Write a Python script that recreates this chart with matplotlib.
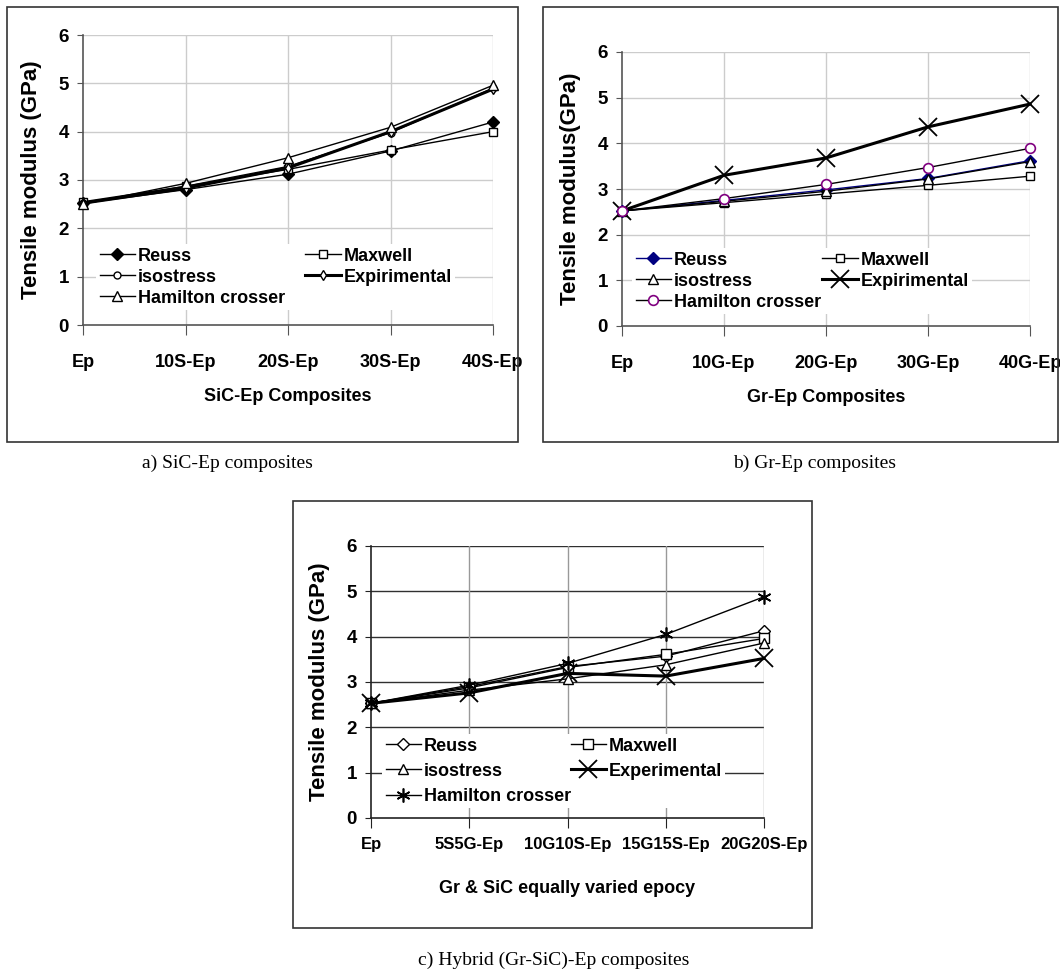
import matplotlib
matplotlib.use("Agg")
import matplotlib.pyplot as plt
from matplotlib.patches import Rectangle

W, H = 1060, 974
NARROW = ['Liberation Sans Narrow', 'Liberation Sans', 'DejaVu Sans']
SERIF = ['Liberation Serif', 'DejaVu Serif']

# ---- data ----
cats_a = ['Ep', '10S-Ep', '20S-Ep', '30S-Ep', '40S-Ep']
reuss_a = [2.52, 2.80, 3.12, 3.60, 4.20]
maxwell_a = [2.55, 2.87, 3.22, 3.62, 4.00]
isostress_a = [2.52, 2.87, 3.28, 3.98, 4.90]
exp_a = [2.52, 2.83, 3.25, 4.00, 4.88]
hamilton_a = [2.50, 2.93, 3.46, 4.09, 4.96]

cats_b = ['Ep', '10G-Ep', '20G-Ep', '30G-Ep', '40G-Ep']
reuss_b = [2.52, 2.75, 2.98, 3.23, 3.62]
maxwell_b = [2.52, 2.70, 2.89, 3.08, 3.28]
isostress_b = [2.52, 2.73, 2.95, 3.22, 3.60]
exp_b = [2.52, 3.30, 3.68, 4.36, 4.86]
hamilton_b = [2.52, 2.79, 3.10, 3.47, 3.89]

cats_c = ['Ep', '5S5G-Ep', '10G10S-Ep', '15G15S-Ep', '20G20S-Ep']
reuss_c = [2.53, 2.90, 3.34, 3.57, 4.13]
maxwell_c = [2.53, 2.87, 3.32, 3.61, 3.96]
isostress_c = [2.53, 2.82, 3.07, 3.38, 3.86]
exp_c = [2.53, 2.76, 3.19, 3.13, 3.52]
hamilton_c = [2.53, 2.93, 3.41, 4.05, 4.88]


def px_axes(fig, left, top, right, bottom):
    return fig.add_axes([left / W, 1 - bottom / H, (right - left) / W, (bottom - top) / H])


def frame(fig, left, top, right, bottom):
    fig.patches.append(Rectangle((left / W, 1 - bottom / H), (right - left) / W, (bottom - top) / H,
                                 transform=fig.transFigure, fill=False, edgecolor='#333333',
                                 linewidth=1.2, zorder=0))


def style_axes(ax, cats, xlabel, ylabel, hgrid, vgrid, spine, xfs=13, xpad=14, xlpad=12):
    ax.set_xlim(0, len(cats) - 1)
    ax.set_ylim(0, 6)
    ax.set_xticks(range(len(cats)))
    ax.set_xticklabels(cats, fontfamily=NARROW, fontweight='bold', fontsize=xfs)
    ax.set_yticks(range(7))
    ax.set_yticklabels([str(v) for v in range(7)], fontfamily=NARROW, fontweight='bold', fontsize=13.5)
    ax.tick_params(axis='x', length=7, pad=xpad, color=spine)
    ax.tick_params(axis='y', length=4, pad=6, color=spine)
    for s in ['top', 'right']:
        ax.spines[s].set_visible(False)
    for s in ['left', 'bottom']:
        ax.spines[s].set_color(spine)
        ax.spines[s].set_linewidth(1.2)
    for v in range(1, 7):
        ax.axhline(v, color=hgrid, linewidth=1.0, zorder=0)
    for i in range(1, len(cats)):
        ax.axvline(i, color=vgrid, linewidth=1.0, zorder=0)
    ax.set_xlabel(xlabel, fontfamily=NARROW, fontweight='bold', fontsize=13, labelpad=xlpad)
    ax.set_ylabel(ylabel, fontfamily=['Liberation Sans', 'DejaVu Sans'], fontweight='bold',
                  fontsize=16, labelpad=12)


def add_legend(ax, handles, labels, x, y, colsp, rowsp):
    leg = ax.legend(handles, labels, ncol=2, loc='upper left', bbox_to_anchor=(x / W, 1 - y / H),
                    bbox_transform=ax.figure.transFigure, frameon=True, fancybox=False,
                    edgecolor='none', facecolor='white', framealpha=1, borderpad=0.2,
                    handlelength=1.95, handletextpad=0.15, columnspacing=colsp,
                    labelspacing=rowsp, borderaxespad=0,
                    prop={'family': NARROW, 'weight': 'bold', 'size': 13})
    leg.set_zorder(5)
    return leg


fig = plt.figure(figsize=(W / 100, H / 100), dpi=100)

# ---- a) SiC-Ep ----
frame(fig, 7, 7, 518, 442)
ax = px_axes(fig, 83, 35, 493, 325)
x = range(len(cats_a))
h1, = ax.plot(x, reuss_a, '-D', color='black', lw=1, ms=6, mfc='black', clip_on=False, zorder=3)
h2, = ax.plot(x, maxwell_a, '-s', color='black', lw=1, ms=6, mfc='white', clip_on=False, zorder=3)
h3, = ax.plot(x, isostress_a, '-o', color='black', lw=1, ms=5, mfc='white', clip_on=False, zorder=3)
h4, = ax.plot(x, exp_a, '-d', color='black', lw=2.2, ms=5, mfc='white', mew=1, clip_on=False, zorder=3)
h5, = ax.plot(x, hamilton_a, '-^', color='black', lw=1, ms=7, mfc='white', clip_on=False, zorder=4)
style_axes(ax, cats_a, 'SiC-Ep Composites', 'Tensile modulus (GPa)', '#cccccc', '#cccccc', '#555555')
add_legend(ax, [h1, h3, h5, h2, h4], ['Reuss', 'isostress', 'Hamilton crosser', 'Maxwell', 'Expirimental'],
           96, 244, 1.15, 0.22)
fig.text(227 / W, 1 - 463 / H, 'a) SiC-Ep composites', ha='center', va='center',
         fontfamily=SERIF, fontsize=14)

# ---- b) Gr-Ep ----
frame(fig, 543, 7, 1058, 442)
ax = px_axes(fig, 622, 52, 1030, 326)
x = range(len(cats_b))
navy = '#000080'
h1, = ax.plot(x, reuss_b, '-D', color=navy, lw=1, ms=6, mfc=navy, clip_on=False, zorder=3)
h2, = ax.plot(x, maxwell_b, '-s', color='black', lw=1, ms=6, mfc='white', clip_on=False, zorder=3)
h3, = ax.plot(x, isostress_b, '-^', color='black', lw=1, ms=7, mfc='white', clip_on=False, zorder=3)
h4, = ax.plot(x, exp_b, '-x', color='black', lw=2.2, ms=13, mew=1.3, clip_on=False, zorder=3)
h5, = ax.plot(x, hamilton_b, '-o', color='black', lw=1, ms=7, mfc='white', mec='#800080',
              mew=1.2, clip_on=False, zorder=4)
style_axes(ax, cats_b, 'Gr-Ep Composites', 'Tensile modulus(GPa)', '#cccccc', '#cccccc', '#555555')
add_legend(ax, [h1, h3, h5, h2, h4], ['Reuss', 'isostress', 'Hamilton crosser', 'Maxwell', 'Expirimental'],
           632, 248, 0.1, 0.22)
fig.text(815 / W, 1 - 463 / H, 'b) Gr-Ep composites', ha='center', va='center',
         fontfamily=SERIF, fontsize=14)

# ---- c) Hybrid ----
frame(fig, 293, 501, 812, 928)
ax = px_axes(fig, 371, 546, 764, 818)
x = range(len(cats_c))
star = (6, 2, 0)
h1, = ax.plot(x, reuss_c, '-D', color='black', lw=1, ms=6, mfc='white', clip_on=False, zorder=3)
h2, = ax.plot(x, maxwell_c, '-s', color='black', lw=1, ms=7, mfc='white', clip_on=False, zorder=3)
h3, = ax.plot(x, isostress_c, '-^', color='black', lw=1, ms=7, mfc='white', clip_on=False, zorder=3)
h4, = ax.plot(x, exp_c, '-x', color='black', lw=2.2, ms=13, mew=1.3, clip_on=False, zorder=3)
h5, = ax.plot(x, hamilton_c, '-', marker=star, color='black', lw=1, ms=10, mew=1.2,
              clip_on=False, zorder=4)
style_axes(ax, cats_c, 'Gr & SiC equally varied epocy', 'Tensile modulus (GPa)', '#303030', '#999999',
           '#222222', xfs=12, xpad=7, xlpad=20)
add_legend(ax, [h1, h3, h5, h2, h4], ['Reuss', 'isostress', 'Hamilton crosser', 'Maxwell', 'Experimental'],
           382, 734, 0.0, 0.45)
fig.text(554 / W, 1 - 960 / H, 'c) Hybrid (Gr-SiC)-Ep composites', ha='center', va='center',
         fontfamily=SERIF, fontsize=14)

fig.savefig('out.png', dpi=100)
